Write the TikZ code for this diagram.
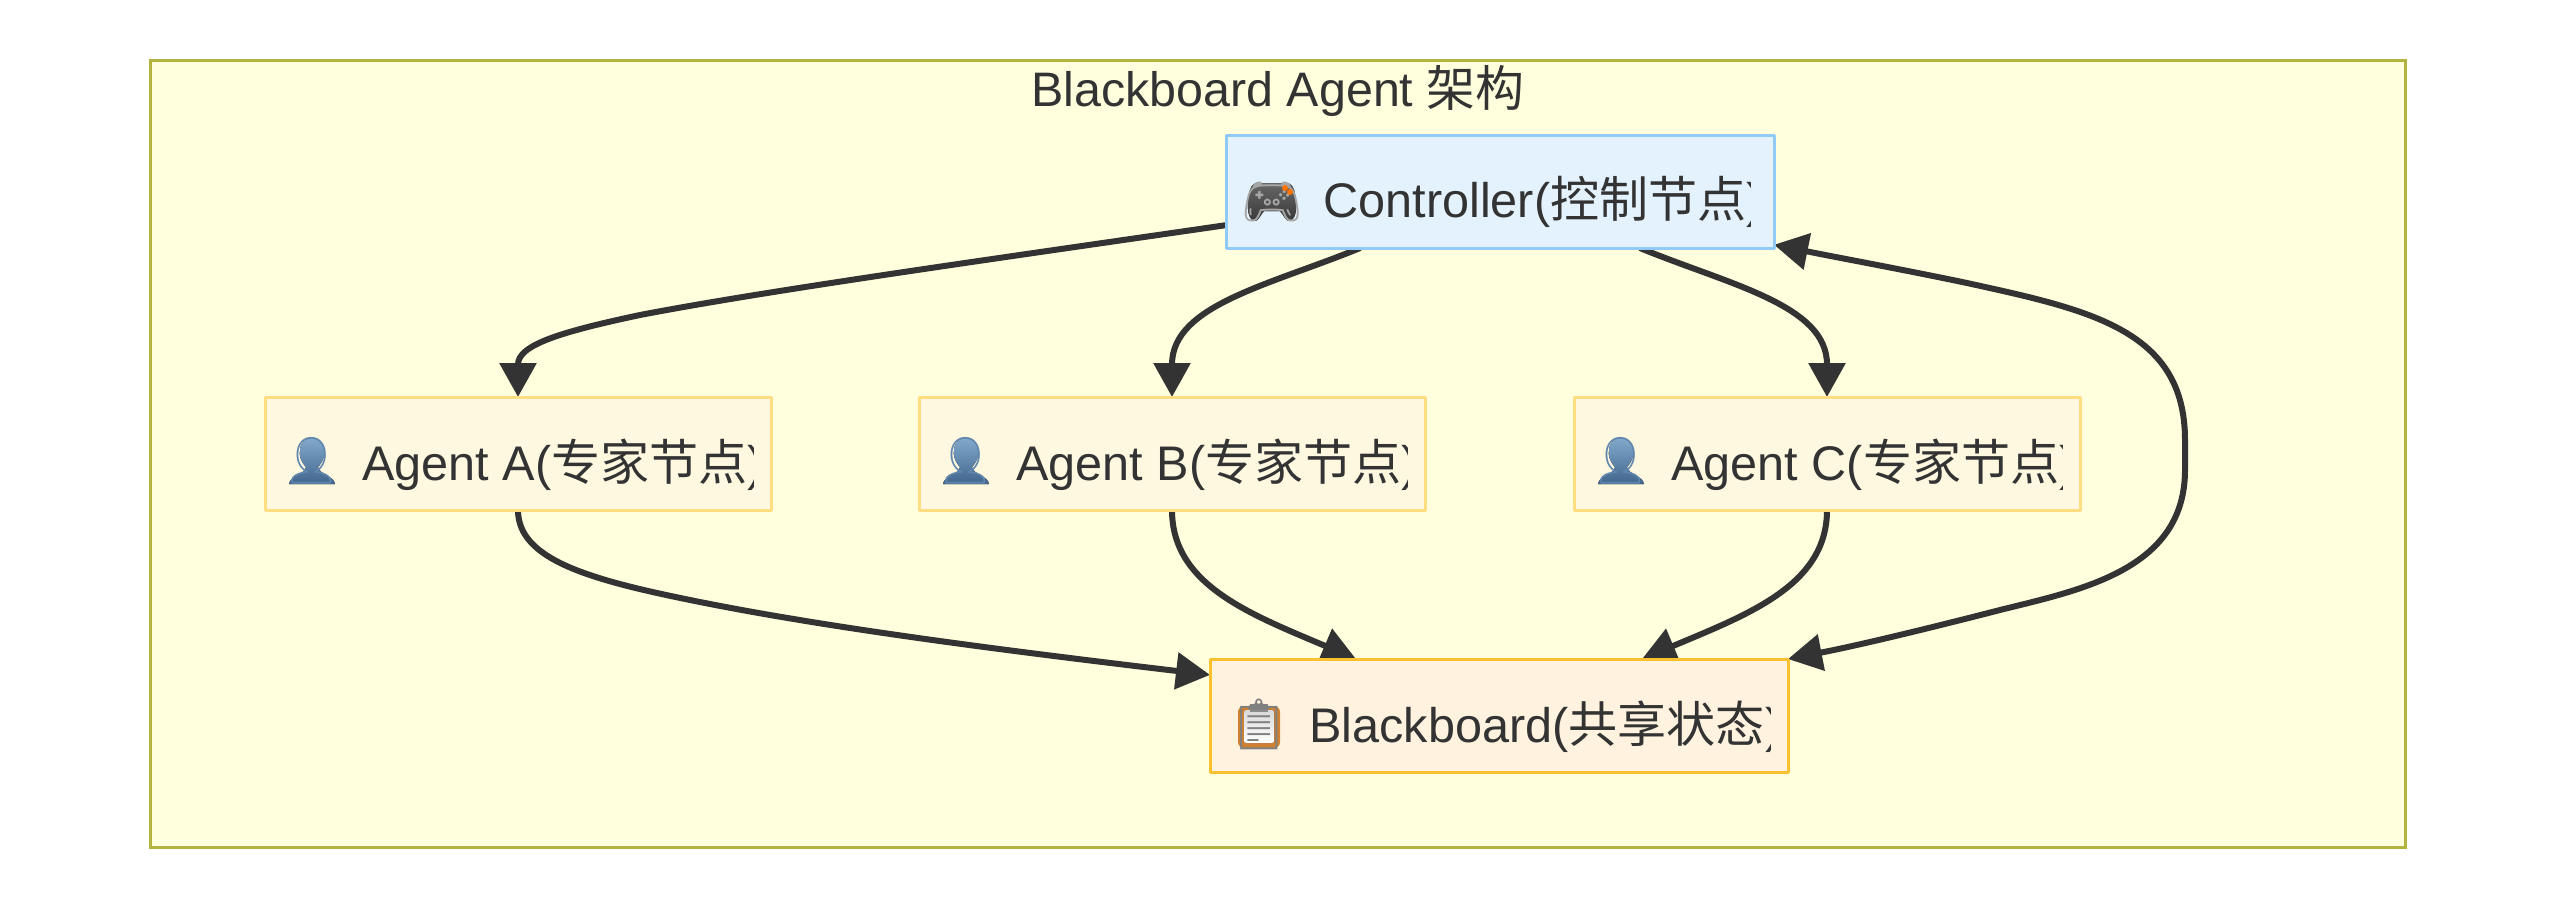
\documentclass[tikz,border=0pt]{standalone}
\usepackage{fontspec}
\setmainfont{Liberation Sans}
\newfontfamily\cjk[Scale=1.01]{Noto Sans CJK SC}
\newfontfamily\emojifont{Noto Emoji}
\usetikzlibrary{arrows.meta,calc}
\pgfdeclarelayer{edges}
\pgfsetlayers{edges,main}
\definecolor{inkgray}{HTML}{333333}
\definecolor{clusterfill}{HTML}{FFFFDE}
\definecolor{clusterline}{HTML}{B3B33D}
\definecolor{ctrlfill}{HTML}{E3F2FD}
\definecolor{ctrlline}{HTML}{90CAF9}
\definecolor{agentfill}{HTML}{FFF8E1}
\definecolor{agentline}{HTML}{FFDD80}
\definecolor{boardfill}{HTML}{FFF3E0}
\definecolor{boardline}{HTML}{FBC02D}
\definecolor{bustlight}{HTML}{82A9CC}
\definecolor{bustmid}{HTML}{5F87AE}
\definecolor{bustdark}{HTML}{41658C}
\newcommand{\zh}[1]{{\cjk #1}}
\tikzset{
  box/.style={draw,line width=1.5pt,inner sep=0pt,outer sep=0pt},
  agentbox/.style={box,draw=agentline,fill=agentfill,minimum width=253pt,minimum height=56.5pt},
  titlelab/.style={anchor=base west,inner sep=0pt,text=inkgray,font=\fontsize{24.2}{28}\selectfont},
  lab/.style={titlelab,font=\fontsize{24.3}{28}\selectfont},
  icon/.style={inner sep=0pt,font=\emojifont\fontsize{25}{28}\selectfont},
  busticon/.style={inner sep=0pt,text=bustmid,font=\emojifont\fontsize{23}{28}\selectfont},
  bustback/.pic={\fill[top color=bustlight,bottom color=bustdark] (-23,23) .. controls (-22,15) and (-8,14) .. (-6,6) .. controls (-12,0) and (-13,-8) .. (-12,-10) .. controls (-12,-19) and (-6,-23) .. (0,-23) .. controls (6,-23) and (12,-19) .. (12,-10) .. controls (13,-8) and (12,0) .. (6,6) .. controls (8,14) and (22,15) .. (23,23) -- cycle;},
  flow/.style={draw=inkgray,line width=3pt,-{Triangle[length=17pt,width=18pt]}}
}
\begin{document}
\begin{tikzpicture}[x=0.5pt,y=-0.5pt,line join=round]
\useasboundingbox (0,0) rectangle (2555,907);
% boxes
\node[box,draw=ctrlline,fill=ctrlfill,minimum width=274pt,minimum height=56.5pt] (ctrl) at (1500,191.5) {};
\node[agentbox] (agentA) at (518,453.5) {};
\node[agentbox] (agentB) at (1172,453.5) {};
\node[agentbox] (agentC) at (1827,453.5) {};
\node[box,draw=boardline,fill=boardfill,minimum width=289pt,minimum height=56.5pt] (board) at (1499,715.5) {};
% title
\node[titlelab] (title) at (1031,106) {Blackboard Agent \zh{架构}};
% controller label, cut off on the right
\fill[top color=black!60,bottom color=black!78,shift={(1272,202)}] (-14,-19) .. controls (-20,-19) and (-22,-14) .. (-23,-8) .. controls (-25,4) and (-25,16) .. (-18,19) .. controls (-14,20) and (-11,12) .. (-8,9) -- (8,9) .. controls (11,12) and (14,20) .. (18,19) .. controls (25,16) and (25,4) .. (23,-8) .. controls (22,-14) and (20,-19) .. (14,-19) -- cycle;
\node[icon,text=black!35] (ctrlicon) at (1272,202) {🎮};
\fill[orange!90!red] (1285,188) circle (3) (1290,192) circle (3);
\begin{scope}\clip (1226,135) rectangle (1750,248);\node[lab] (ctrltext) at (1323,217) {Controller(\zh{控制节点})};\end{scope}
% agent labels
\pic at (312,461) {bustback};
\node[busticon] (iconA) at (312,461) {👤};
\begin{scope}\clip (265,397) rectangle (753,510);\node[lab] (textA) at (362,480) {Agent A(\zh{专家节点})};\end{scope}
\pic at (966,461) {bustback};
\node[busticon] (iconB) at (966,461) {👤};
\begin{scope}\clip (919,397) rectangle (1407,510);\node[lab] (textB) at (1016,480) {Agent B(\zh{专家节点})};\end{scope}
\pic at (1621,461) {bustback};
\node[busticon] (iconC) at (1621,461) {👤};
\begin{scope}\clip (1574,397) rectangle (2062,510);\node[lab] (textC) at (1671,480) {Agent C(\zh{专家节点})};\end{scope}
% board label
\fill[brown!75!orange,rounded corners=3] (1238,706) rectangle (1280,748);
\fill[top color=black!15,bottom color=white,rounded corners=1] (1244,710) rectangle (1274,743);
\fill[black!45] (1250,704) rectangle (1268,712);
\node[icon,text=black!50] (boardicon) at (1259,724) {📋};
\begin{scope}\clip (1210,659) rectangle (1770,772);\node[lab] (boardtext) at (1309,742) {Blackboard(\zh{共享状态})};\end{scope}
% cluster and connectors stay behind the boxes
\begin{pgfonlayer}{edges}
\draw[draw=clusterline,fill=clusterfill,line width=1.5pt] (150,60) rectangle (2405,847);
\draw[flow] (ctrl.187.7) .. controls (1000,258) and (770,290) .. (640,315) .. controls (560,332) and (518,345) .. (agentA.north);
\draw[flow] (ctrl.202.3) .. controls (1270,285) and (1172,305) .. (agentB.north);
\draw[flow] (ctrl.-22.3) .. controls (1730,285) and (1827,305) .. (agentC.north);
\draw[flow] (agentA.south) .. controls (518,560) and (590,580) .. (700,602) .. controls (830,628) and (1000,650) .. (board.172.5);
\draw[flow] (agentB.south) .. controls (1172,585) and (1250,614) .. ($(board.north)+(-143,0)$);
\draw[flow] (agentC.south) .. controls (1827,585) and (1749,614) .. ($(board.north)+(143,0)$);
\draw[flow,{Triangle[length=17pt,width=18pt]}-{Triangle[length=17pt,width=18pt]}] (ctrl.-11) .. controls (1840,258) and (1905,270) .. (1967,283) .. controls (2090,310) and (2185,330) .. (2185,440) -- (2185,470) .. controls (2185,570) and (2080,590) .. (2000,610) .. controls (1930,628) and (1860,645) .. (board.north east);
\end{pgfonlayer}
\end{tikzpicture}
\end{document}
